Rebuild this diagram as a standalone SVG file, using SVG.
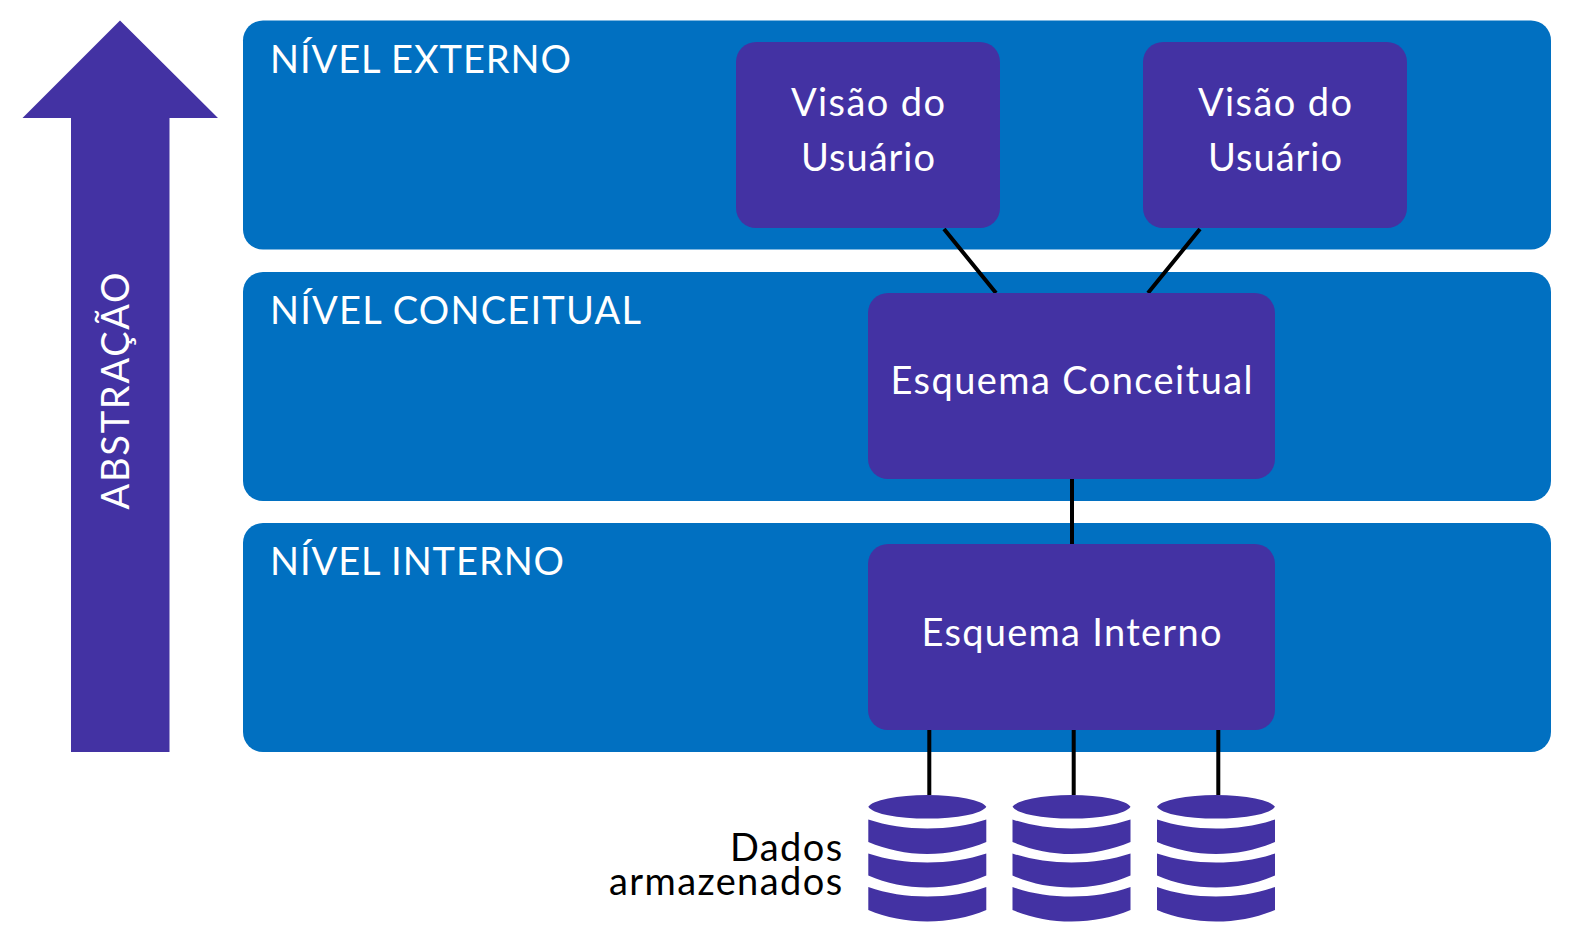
<svg xmlns="http://www.w3.org/2000/svg" xmlns:xlink="http://www.w3.org/1999/xlink" width="1572" height="939" viewBox="0 0 1572 939">
<style>
text{font-family:"Lato","Open Sans",sans-serif;font-weight:400}
.panel{fill:#0170c1}
.box{fill:#4332a3}
.t{fill:#fff;font-size:38px}
.m{text-anchor:middle}
.d{fill:#000;font-size:38px;text-anchor:end;letter-spacing:1.400px}
.c{stroke:#000;stroke-width:4;fill:none}
.db{fill:#4332a3}
</style>
<defs>
<g id="cyl">
<path d="M0 12.300A59.500 13.500 0 0 1 118 12.300A59.500 13.500 0 0 1 0 12.300Z"/>
<path d="M0 25C18 31 38 34 59 34C80 34 100 31 118 25V47.500C100 55 80 59.500 59 59.500C38 59.500 18 55 0 47.500Z"/>
<path d="M0 59C18 65 38 68 59 68C80 68 100 65 118 59V81C100 89 80 93 59 93C38 93 18 89 0 81Z"/>
<path d="M0 92.500C18 99 38 102 59 102C80 102 100 99 118 92.500V115.500C100 123 80 127 59 127C38 127 18 123 0 115.500Z"/>
</g>
</defs>
<g id="seta"><path class="box" d="M120 20.500L218 118H169.500V752H71V118H22.500Z"/><text class="t m" transform="translate(129 391) rotate(-90)" textLength="237" lengthAdjust="spacing">ABSTRAÇÃO</text></g>
<g id="nivel-externo"><rect class="panel" x="243" y="20.500" width="1308" height="229" rx="20"/><text class="t" x="270" y="73" textLength="301" lengthAdjust="spacing">NÍVEL EXTERNO</text></g>
<g id="nivel-conceitual"><rect class="panel" x="243" y="272" width="1308" height="229" rx="20"/><text class="t" x="270" y="324" textLength="371" lengthAdjust="spacing">NÍVEL CONCEITUAL</text></g>
<g id="nivel-interno"><rect class="panel" x="243" y="523" width="1308" height="229" rx="20"/><text class="t" x="270" y="575" textLength="294" lengthAdjust="spacing">NÍVEL INTERNO</text></g>
<g id="conectores">
<path class="c" d="M944 229L996 293M1200 229L1148 293M1072 479V544M929.300 730V795M1073.700 730V795M1218.300 730V795"/>
</g>
<g id="visao-1"><rect class="box" x="736" y="42" width="264" height="186" rx="20"/><text class="t m" x="868" y="116" textLength="154" lengthAdjust="spacing">Visão do</text><text class="t m" x="868" y="171" textLength="134" lengthAdjust="spacing">Usuário</text></g>
<g id="visao-2"><rect class="box" x="1143" y="42" width="264" height="186" rx="20"/><text class="t m" x="1275" y="116" textLength="154" lengthAdjust="spacing">Visão do</text><text class="t m" x="1275" y="171" textLength="134" lengthAdjust="spacing">Usuário</text></g>
<g id="esquema-conceitual"><rect class="box" x="868" y="293" width="407" height="186" rx="20"/><text class="t m" x="1071.500" y="394" textLength="362" lengthAdjust="spacing">Esquema Conceitual</text></g>
<g id="esquema-interno"><rect class="box" x="868" y="544" width="407" height="186" rx="20"/><text class="t m" x="1071.500" y="646" textLength="300" lengthAdjust="spacing">Esquema Interno</text></g>
<g id="dados"><text class="d" x="843.500" y="861">Dados</text><text class="d" x="843.500" y="895">armazenados</text></g>
<use id="disco-1" class="db" href="#cyl" x="868.300" y="794.500"/>
<use id="disco-2" class="db" href="#cyl" x="1012.500" y="794.500"/>
<use id="disco-3" class="db" href="#cyl" x="1157" y="794.500"/>
</svg>
